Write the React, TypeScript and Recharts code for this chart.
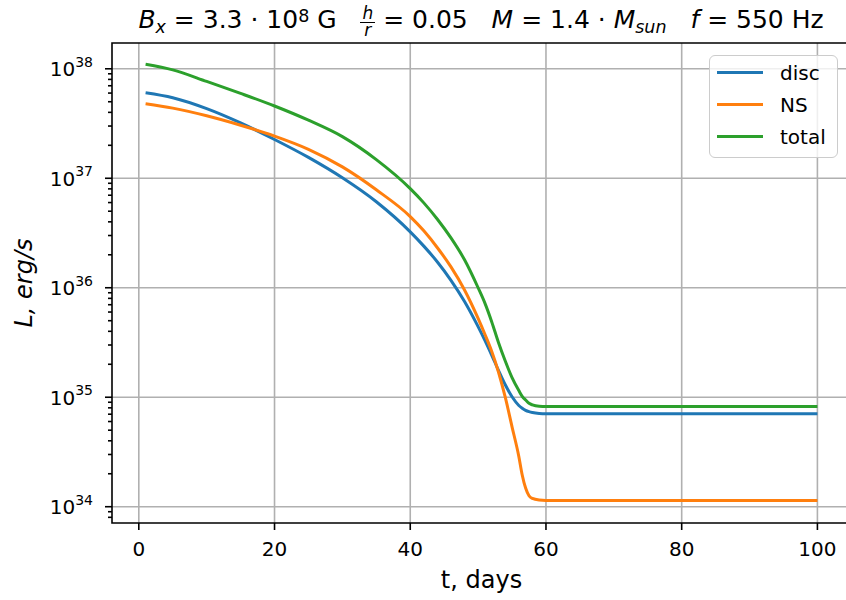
import React from 'react'
import { LineChart, Line, XAxis, YAxis, CartesianGrid, Legend, ReferenceArea } from 'recharts'

// time, days
const days = [
  1, 5, 10, 15, 20, 25, 30, 35, 40, 42, 44, 46, 48, 50, 51, 52, 53, 54, 55, 56, 56.5, 57, 57.5, 58, 59, 60,
  70, 80, 90, 100,
]

// luminosity, erg/s
const disc = [
  6.03e37, 5.43e37, 4.32e37, 3.2e37, 2.26e37, 1.55e37, 1.01e37, 6.1e36, 3.24e36, 2.4e36, 1.72e36, 1.17e36,
  7.5e35, 4.42e35, 3.31e35, 2.43e35, 1.76e35, 1.3e35, 1.01e35, 8.41e34, 7.94e34, 7.59e34, 7.38e34, 7.24e34,
  7.11e34, 7.08e34, 7.08e34, 7.08e34, 7.08e34, 7.08e34,
]
const ns = [
  4.79e37, 4.37e37, 3.72e37, 3.05e37, 2.43e37, 1.84e37, 1.27e37, 7.85e36, 4.47e36, 3.31e36, 2.32e36, 1.55e36,
  9.55e35, 5.25e35, 3.76e35, 2.63e35, 1.7e35, 1.0e35, 5.37e34, 2.88e34, 1.95e34, 1.48e34, 1.26e34, 1.19e34,
  1.15e34, 1.14e34, 1.14e34, 1.14e34, 1.14e34, 1.14e34,
]
const total = [
  1.1e38, 9.77e37, 7.67e37, 5.96e37, 4.57e37, 3.39e37, 2.4e37, 1.48e37, 8.04e36, 5.96e36, 4.22e36, 2.85e36,
  1.8e36, 1.0e36, 7.24e35, 4.9e35, 3.16e35, 2.14e35, 1.51e35, 1.15e35, 1.02e35, 9.44e34, 8.81e34, 8.51e34,
  8.26e34, 8.22e34, 8.22e34, 8.22e34, 8.22e34, 8.22e34,
]

const xTicks = [0, 20, 40, 60, 80, 100]
const xDomain = [-3.95, 104.95]
const majorTicks = [1e34, 1e35, 1e36, 1e37, 1e38]
const yMin = 7.1e33
const yMax = 1.72e38
const minorTicks = [33, 34, 35, 36, 37]
  .flatMap((e) => [2, 3, 4, 5, 6, 7, 8, 9].map((m) => m * 10 ** e))
  .filter((v) => v >= yMin && v <= yMax)
const yTicks = [...majorTicks, ...minorTicks].sort((a, b) => a - b)

const series = [
  { key: 'disc', name: 'disc', color: '#1f77b4' },
  { key: 'ns', name: 'NS', color: '#ff7f0e' },
  { key: 'total', name: 'total', color: '#2ca02c' },
]

const data = days.map((t, i) => ({ t, disc: disc[i], ns: ns[i], total: total[i] }))

const FONT = '"DejaVu Sans", sans-serif'

const YTick = (props: any) => {
  const { x, y, payload } = props
  const v = payload.value
  const isMajor = majorTicks.includes(v)
  return (
    <g>
      <line x1={x - (isMajor ? 7 : 4)} x2={x} y1={y} y2={y} stroke="#000" strokeWidth={1.6} />
      {isMajor && (
        <text x={x - 19} y={y + 7.5} textAnchor="end" fontSize={20} fill="#000">
          10
          <tspan fontSize={14} dy={-9.5}>
            {Math.round(Math.log10(v))}
          </tspan>
        </text>
      )}
    </g>
  )
}

const XTick = (props: any) => {
  const { x, y, payload } = props
  return (
    <g>
      <line x1={x} x2={x} y1={y} y2={y + 7} stroke="#000" strokeWidth={1.6} />
      <text x={x} y={y + 32.5} textAnchor="middle" fontSize={20} fill="#000">
        {payload.value}
      </text>
    </g>
  )
}

const LegendBox = () => (
  <div
    style={{
      position: 'relative',
      width: 127,
      height: 101,
      border: '1.6px solid #cccccc',
      borderRadius: 6,
      background: 'rgba(255,255,255,0.8)',
      fontFamily: FONT,
      fontSize: 20,
    }}
  >
    {series.map((s, i) => (
      <div key={s.key} style={{ position: 'absolute', left: 0, top: 1 + i * 32, height: 32, width: '100%' }}>
        <div style={{ position: 'absolute', left: 7, top: 14, width: 46, height: 3, background: s.color }} />
        <div style={{ position: 'absolute', left: 70, top: 2, lineHeight: '28px' }}>{s.name}</div>
      </div>
    ))}
  </div>
)

const Sub = ({ children }: { children: React.ReactNode }) => (
  <span style={{ fontSize: 17.5, position: 'relative', top: 5 }}>{children}</span>
)
const Sup = ({ children }: { children: React.ReactNode }) => (
  <span style={{ fontSize: 17.5, position: 'relative', top: -6 }}>{children}</span>
)

const Title = () => (
  <div
    style={{
      position: 'absolute',
      left: 131,
      top: 5,
      width: 700,
      display: 'flex',
      justifyContent: 'center',
      alignItems: 'baseline',
      whiteSpace: 'pre',
      fontFamily: FONT,
      fontSize: 25,
      lineHeight: '30px',
      color: '#000',
    }}
  >
    <i>B</i>
    <Sub>
      <i>x</i>
    </Sub>
    <span> = 3.3 · 10</span>
    <Sup>8</Sup>
    <span> G   </span>
    <span
      style={{
        display: 'inline-flex',
        flexDirection: 'column',
        alignItems: 'center',
        fontSize: 17,
        lineHeight: '15px',
        fontStyle: 'italic',
        position: 'relative',
        top: -9,
      }}
    >
      <span style={{ padding: '0 2px 1px' }}>h</span>
      <span style={{ borderTop: '1.2px solid #000', alignSelf: 'stretch', textAlign: 'center' }}>r</span>
    </span>
    <span> = 0.05   </span>
    <i>M</i>
    <span> = 1.4 · </span>
    <i>M</i>
    <Sub>
      <i>sun</i>
    </Sub>
    <span>   </span>
    <i>f</i>
    <span> = 550 Hz</span>
  </div>
)

export default function App() {
  return (
    <div
      style={{
        position: 'absolute',
        left: 0,
        top: 0,
        width: 846,
        height: 600,
        overflow: 'hidden',
        background: '#fff',
        fontFamily: FONT,
      }}
    >
      <LineChart width={851} height={600} data={data} margin={{ top: 43, right: 0, left: 0, bottom: 0 }}>
        <CartesianGrid stroke="#b0b0b0" strokeWidth={1.6} horizontalValues={majorTicks} verticalValues={xTicks} />
        <XAxis
          dataKey="t"
          type="number"
          domain={xDomain}
          ticks={xTicks}
          allowDataOverflow
          height={77}
          axisLine={false}
          tickLine={false}
          tickSize={0}
          tickMargin={0}
          interval={0}
          tick={<XTick />}
          label={{
            content: ({ viewBox }: any) => (
              <text x={viewBox.x + viewBox.width / 2} y={viewBox.y + 65} textAnchor="middle" fontSize={24} fill="#000">
                t, days
              </text>
            ),
          }}
        />
        <YAxis
          scale="log"
          type="number"
          domain={[yMin, yMax]}
          ticks={yTicks}
          allowDataOverflow
          width={112}
          axisLine={false}
          tickLine={false}
          tickSize={0}
          tickMargin={0}
          interval={0}
          tick={<YTick />}
          label={{
            content: ({ viewBox }: any) => {
              const cy = viewBox.y + viewBox.height / 2
              return (
                <text
                  x={32}
                  y={cy}
                  transform={`rotate(-90, 32, ${cy})`}
                  textAnchor="middle"
                  fontSize={24}
                  fontStyle="italic"
                  fill="#000"
                >
                  L, erg/s
                </text>
              )
            },
          }}
        />
        {series.map((s) => (
          <Line
            key={s.key}
            dataKey={s.key}
            name={s.name}
            type="monotone"
            stroke={s.color}
            strokeWidth={3}
            dot={false}
            isAnimationActive={false}
          />
        ))}
        <ReferenceArea
          x1={xDomain[0]}
          x2={xDomain[1]}
          y1={yMin}
          y2={yMax}
          fill="none"
          stroke="#000"
          strokeWidth={1.6}
          ifOverflow="visible"
        />
        <Legend
          layout="vertical"
          align="center"
          verticalAlign="middle"
          content={() => <LegendBox />}
          wrapperStyle={{ left: 709, top: 55, width: 'auto' }}
        />
      </LineChart>
      <Title />
    </div>
  )
}
